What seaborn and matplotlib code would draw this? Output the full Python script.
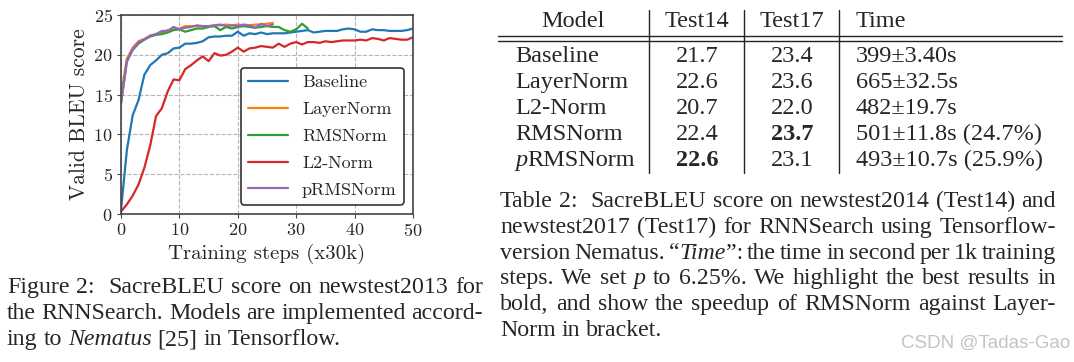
# ============================================
# SACREBLEU CURVES + RESULTS TABLE (RNNSearch)
# ============================================

import pandas as pd
import numpy as np
import matplotlib
matplotlib.use("Agg")
import matplotlib.pyplot as plt
from matplotlib.lines import Line2D
import seaborn as sns

# --------------------------------------------
# DATA
# --------------------------------------------

models = ["Baseline", "LayerNorm", "RMSNorm", "L2-Norm", "pRMSNorm"]

baseline = [0.5, 8.0, 12.4, 14.3, 17.5, 18.7, 19.3, 20.0, 20.2, 20.8, 20.9,
            21.4, 21.4, 21.5, 21.7, 22.2, 22.3, 22.3, 22.4, 22.4, 22.9,
            22.4, 22.7, 22.6, 22.8, 22.6, 22.7, 22.7, 22.7, 22.8, 22.9,
            23.0, 23.1, 22.8, 22.9, 23.0, 23.0, 23.0, 23.2, 23.3, 23.2,
            22.9, 22.9, 23.2, 23.1, 23.1, 23.0, 23.0, 23.0, 23.1, 23.3]

layernorm = [15.0, 19.5, 20.9, 21.7, 22.0, 22.4, 22.6, 22.8, 23.1, 23.2, 23.3,
             23.6, 23.6, 23.6, 23.6, 23.6, 23.7, 23.7, 23.8, 23.7, 23.8,
             23.7, 23.7, 23.8, 23.8, 23.9, 24.0]

rmsnorm = [14.0, 19.2, 20.6, 21.4, 21.9, 22.3, 22.5, 22.6, 22.8, 23.1, 23.2,
           22.9, 23.1, 23.3, 23.3, 23.5, 23.6, 23.1, 23.5, 23.3, 23.5,
           23.6, 23.5, 23.4, 23.5, 23.6, 23.5, 23.5, 23.1, 22.9, 23.2,
           23.9, 23.3]

l2norm = [0.3, 1.2, 2.3, 3.7, 5.8, 8.6, 12.3, 13.3, 15.4, 16.9, 16.8,
          18.2, 18.7, 19.3, 19.8, 19.2, 20.2, 19.9, 20.0, 20.4, 20.9,
          20.4, 20.8, 20.9, 21.1, 21.0, 20.9, 21.4, 21.0, 21.4, 21.6,
          21.3, 21.6, 21.6, 21.5, 21.7, 21.6, 21.7, 21.8, 21.8, 21.8,
          21.9, 21.8, 22.1, 22.0, 21.8, 22.1, 22.0, 21.9, 21.9, 22.2]

prmsnorm = [13.8, 19.1, 20.7, 21.6, 21.9, 22.4, 22.6, 23.0, 23.0, 23.5, 23.2,
            23.4, 23.5, 23.7, 23.6, 23.6, 23.7, 23.8, 23.6, 23.7, 23.6,
            23.8, 23.7, 23.4, 23.9, 23.6, 23.8]

# table 2
table_models = ["Baseline", "LayerNorm", "L2-Norm", "RMSNorm", "*p*RMSNorm"]
test14 = ["21.7", "22.6", "20.7", "22.4", "22.6"]
test17 = ["23.4", "23.6", "22.0", "23.7", "23.1"]
times = ["399±3.40s", "665±32.5s", "482±19.7s",
         "501±11.8s (24.7%)", "493±10.7s (25.9%)"]
bold14 = [4]
bold17 = [3]

fig_caption = [
    "Figure 2:  SacreBLEU score on newstest2013 for",
    "the RNNSearch. Models are implemented accord-",
    "ing to *Nematus* [25] in Tensorflow.",
]

table_caption = [
    "Table 2:  SacreBLEU score on newstest2014 (Test14) and",
    "newstest2017 (Test17) for RNNSearch using Tensorflow-",
    "version Nematus. “*Time*”: the time in second per 1k training",
    "steps. We set *p* to 6.25%. We highlight the best results in",
    "bold, and show the speedup of RMSNorm against Layer-",
    "Norm in bracket.",
]

# --------------------------------------------
# LONG FORM DATAFRAME
# --------------------------------------------

series = [baseline, layernorm, rmsnorm, l2norm, prmsnorm]
frames = []
for name, vals in zip(models, series):
    frames.append(pd.DataFrame({
        "step": np.arange(len(vals)),
        "bleu": vals,
        "model": name,
    }))
df = pd.concat(frames, ignore_index=True)

# --------------------------------------------
# FIGURE SETUP
# --------------------------------------------

sns.set_style("ticks")
plt.rcParams["font.family"] = ["cmr10", "DejaVu Serif"]
plt.rcParams["axes.formatter.use_mathtext"] = True
plt.rcParams["mathtext.fontset"] = "cm"

W, H = 1074, 362
fig = plt.figure(figsize=(W / 100, H / 100), dpi=100)
fig.patch.set_facecolor("white")

# axes box in pixels: left 121, right 413, top 15, bottom 214
ax = fig.add_axes([121 / W, 1 - 214 / H, 292 / W, 199 / H])

sns.lineplot(
    data=df, x="step", y="bleu", hue="model",
    hue_order=models, palette=sns.color_palette("tab10", 5),
    linewidth=1.6, ax=ax
)

ax.set_xlim(0, 50)
ax.set_ylim(0, 25)
ax.set_xticks([0, 10, 20, 30, 40, 50])
ax.set_yticks([0, 5, 10, 15, 20, 25])
ax.grid(True, linestyle="--", color="#b5b5b5", linewidth=0.8)
ax.set_axisbelow(True)
for s in ax.spines.values():
    s.set_color("#444444")
    s.set_linewidth(1.2)
ax.tick_params(labelsize=13, length=3, color="#444444", pad=3)
ax.set_xlabel("Training steps (x30k)", fontsize=15, labelpad=3)
ax.set_ylabel("Valid BLEU score", fontsize=15.5, labelpad=3)

handles, labels = ax.get_legend_handles_labels()
leg = ax.legend(
    handles, labels,
    loc="lower right",
    bbox_to_anchor=((404 - 121) / 292, (214 - 205) / 199),
    borderaxespad=0, fontsize=13, handlelength=2.2,
    handletextpad=0.8, labelspacing=0.62, borderpad=0.4,
    frameon=True, fancybox=True, framealpha=1,
)
leg.get_frame().set_edgecolor("#333333")
leg.get_frame().set_linewidth(1.2)

# --------------------------------------------
# TEXT HELPERS (pixel coords, *...* = italic)
# --------------------------------------------

SERIF = ["Liberation Serif", "DejaVu Serif"]
renderer = fig.canvas.get_renderer()


def put_line(line, x0, y, size, x1=None, state=None, weight="normal"):
    if state is None:
        state = {"it": False}
    items = []
    gaps = []  # weight of the gap after each word (double space = 2)
    for word in line.split(" "):
        if word == "":
            if gaps:
                gaps[-1] += 1
            continue
        segs = []
        parts = word.split("*")
        for k, part in enumerate(parts):
            if k > 0:
                state["it"] = not state["it"]
            if part:
                t = fig.text(0, 0, part, fontsize=size, family=SERIF,
                             style="italic" if state["it"] else "normal",
                             weight=weight, va="baseline", ha="left")
                segs.append(t)
        items.append(segs)
        gaps.append(1)
    widths = [[t.get_window_extent(renderer).width for t in segs]
              for segs in items]
    total = sum(sum(w) for w in widths)
    unit = size * 0.25 * 100 / 72
    if x1 is not None and len(items) > 1:
        unit = (x1 - x0 - total) / sum(gaps[:-1])
    x = x0
    for segs, ws, g in zip(items, widths, gaps):
        for t, w in zip(segs, ws):
            t.set_position((x / W, 1 - y / H))
            x += w
        x += unit * g
    return x


def put_para(lines, x0, x1, y0, dy, size):
    state = {"it": False}
    for i, line in enumerate(lines):
        last = i == len(lines) - 1
        put_line(line, x0, y0 + i * dy, size,
                 x1=None if last else x1, state=state)


# --------------------------------------------
# TABLE 2
# --------------------------------------------

TS = 17.5
row_y = [62, 88, 114, 140, 166]
head_y = 27

fig.text(573 / W, 1 - head_y / H, "Model", fontsize=TS, family=SERIF,
         ha="center", va="baseline")
fig.text(697 / W, 1 - head_y / H, "Test14", fontsize=TS, family=SERIF,
         ha="center", va="baseline")
fig.text(792 / W, 1 - head_y / H, "Test17", fontsize=TS, family=SERIF,
         ha="center", va="baseline")
fig.text(856 / W, 1 - head_y / H, "Time", fontsize=TS, family=SERIF,
         ha="left", va="baseline")

for i, y in enumerate(row_y):
    put_line(table_models[i], 515, y, TS)
    fig.text(697 / W, 1 - y / H, test14[i], fontsize=TS, family=SERIF,
             ha="center", va="baseline",
             weight="bold" if i in bold14 else "normal")
    fig.text(792 / W, 1 - y / H, test17[i], fontsize=TS, family=SERIF,
             ha="center", va="baseline",
             weight="bold" if i in bold17 else "normal")
    fig.text(856 / W, 1 - y / H, times[i], fontsize=TS, family=SERIF,
             ha="left", va="baseline")

# double rule under the header
for ry in (36, 41):
    fig.add_artist(Line2D([498 / W, 1062 / W], [1 - ry / H, 1 - ry / H],
                          color="#222222", linewidth=1.0))
# vertical separators
for vx in (649, 744, 839):
    fig.add_artist(Line2D([vx / W, vx / W], [1 - 10 / H, 1 - 173 / H],
                          color="#222222", linewidth=1.0))

# --------------------------------------------
# CAPTIONS + WATERMARK
# --------------------------------------------

put_para(fig_caption, 7, 483, 293, 26.2, 17.2)
put_para(table_caption, 500, 1056, 207, 25.8, 17.2)

fig.text(1070 / W, 1 - 343 / H, "CSDN @Tadas-Gao", fontsize=13.5,
         family=["Liberation Sans", "DejaVu Sans"], color="#c4c4c4",
         ha="right", va="center")

fig.savefig("out.png", dpi=100)
print("saved out.png")
